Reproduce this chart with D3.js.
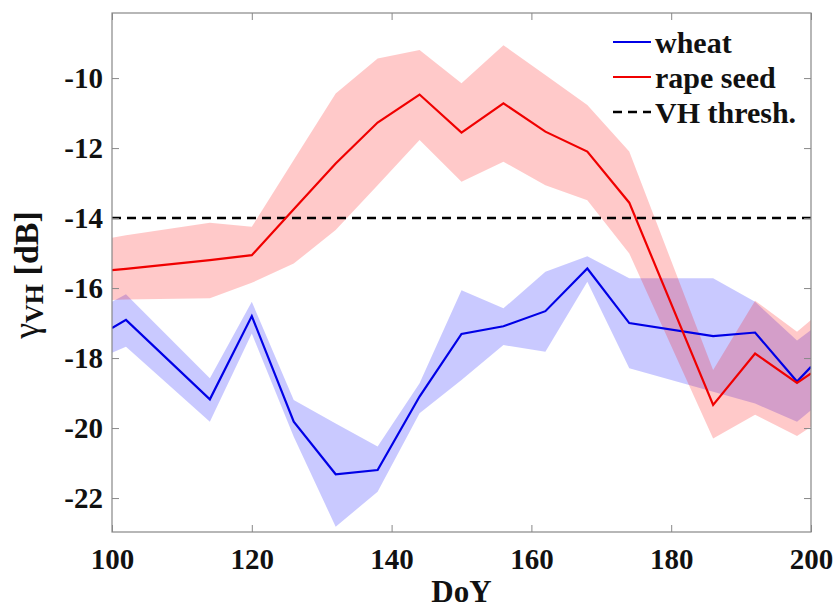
<!DOCTYPE html>
<html>
<head>
<meta charset="utf-8">
<script src="https://cdn.jsdelivr.net/npm/d3@7"></script>
<style>
  html, body { margin: 0; padding: 0; background: #fff; }
  svg { display: block; }
  svg text { font-family: "Liberation Serif", "Times New Roman", serif; font-weight: bold; fill: #111; }
</style>
</head>
<body>
<svg id="chart" width="836" height="609"></svg>
<script>
// Day of year of each acquisition
const doy = [100, 102, 114, 120, 126, 132, 138, 144, 150, 156, 162, 168, 174, 186, 192, 198, 200];

// Wheat: mean VH backscatter and spread band (dB)
const wheatMean = [-17.14, -16.91, -19.18, -16.80, -19.82, -21.32, -21.20, -19.10, -17.31, -17.09, -16.66, -15.44, -17.00, -17.37, -17.27, -18.67, -18.25];
const wheatHigh = [-16.39, -16.18, -18.58, -16.39, -19.20, -19.87, -20.53, -18.72, -16.06, -16.58, -15.53, -15.09, -15.72, -15.72, -16.39, -17.50, -17.20];
const wheatLow  = [-17.85, -17.68, -19.82, -17.30, -20.25, -22.82, -21.82, -19.58, -18.63, -17.63, -17.82, -15.82, -18.29, -18.96, -19.30, -19.82, -19.49];

// Rape seed: mean VH backscatter and spread band (dB)
const rapeMean = [-15.49, -15.45, -15.20, -15.06, -13.75, -12.44, -11.27, -10.47, -11.56, -10.72, -11.53, -12.10, -13.56, -19.34, -17.87, -18.71, -18.44];
const rapeHigh = [-14.56, -14.49, -14.13, -14.25, -12.34, -10.44, -9.44, -9.20, -10.15, -9.06, -9.91, -10.77, -12.10, -18.34, -16.36, -17.25, -16.91];
const rapeLow  = [-16.34, -16.33, -16.29, -15.85, -15.30, -14.34, -13.06, -11.77, -12.96, -12.39, -13.06, -13.49, -15.01, -20.30, -19.62, -20.23, -19.96];

// VH threshold (dB)
const vhThreshold = -14;

// Axis ticks
const xTicks = [100, 120, 140, 160, 180, 200];
const yTicks = [-22, -20, -18, -16, -14, -12, -10];

const legendLabels = ["wheat", "rape seed", "VH thresh."];

const margin = { left: 112, right: 25, top: 13, bottom: 77 };
const width = 836, height = 609;
const svg = d3.select("#chart");

const x = d3.scaleLinear().domain([100, 200]).range([margin.left, width - margin.right]);
const y = d3.scaleLinear().domain([-22.97, -8.14]).range([height - margin.bottom, margin.top]);

const x0 = x.range()[0], x1 = x.range()[1];
const y0 = y.range()[1], y1 = y.range()[0];

svg.append("defs").append("clipPath").attr("id", "plot-clip")
  .append("rect").attr("x", x0).attr("y", y0).attr("width", x1 - x0).attr("height", y1 - y0);

const plot = svg.append("g").attr("clip-path", "url(#plot-clip)");

const series = [
  { mean: wheatMean, hi: wheatHigh, lo: wheatLow, line: "#0000e6", fill: "rgba(0,0,255,0.21)" },
  { mean: rapeMean, hi: rapeHigh, lo: rapeLow, line: "#f00000", fill: "rgba(255,0,0,0.21)" }
];

const area = d3.area().x(d => x(d.d)).y0(d => y(d.lo)).y1(d => y(d.hi));
const line = d3.line().x(d => x(d.d)).y(d => y(d.v));

// Spread bands
series.forEach(s => {
  const pts = doy.map((d, i) => ({ d, lo: s.lo[i], hi: s.hi[i] }));
  plot.append("path").datum(pts).attr("d", area).attr("fill", s.fill).attr("stroke", "none");
});

// Threshold
plot.append("line")
  .attr("x1", x0).attr("x2", x1)
  .attr("y1", y(vhThreshold)).attr("y2", y(vhThreshold))
  .attr("stroke", "#000").attr("stroke-width", 2.5).attr("stroke-dasharray", "9,6");

// Mean lines
series.forEach(s => {
  const pts = doy.map((d, i) => ({ d, v: s.mean[i] }));
  plot.append("path").datum(pts).attr("d", line)
    .attr("fill", "none").attr("stroke", s.line).attr("stroke-width", 2.2)
    .attr("stroke-linejoin", "miter");
});

// Axes (ticks pointing inward, box on all sides)
const axisColor = "#888";
const fmt = d => String(d);
function styleAxis(g, showText) {
  g.attr("font-family", null).attr("font-size", null);
  g.select(".domain").remove();
  g.selectAll(".tick line").attr("stroke", axisColor).attr("stroke-width", 1);
  g.selectAll(".tick text")
    .attr("fill", null)
    .style("font-size", "29px");
  if (!showText) g.selectAll(".tick text").remove();
}

svg.append("g").attr("transform", `translate(0,${y1})`)
  .call(d3.axisBottom(x).tickValues(xTicks).tickFormat(fmt).tickSizeInner(-7).tickSizeOuter(0).tickPadding(16))
  .call(g => styleAxis(g, true));
svg.append("g").attr("transform", `translate(0,${y0})`)
  .call(d3.axisTop(x).tickValues(xTicks).tickSizeInner(-7).tickSizeOuter(0))
  .call(g => styleAxis(g, false));
svg.append("g").attr("transform", `translate(${x0},0)`)
  .call(d3.axisLeft(y).tickValues(yTicks).tickFormat(fmt).tickSizeInner(-7).tickSizeOuter(0).tickPadding(9))
  .call(g => styleAxis(g, true));
svg.append("g").attr("transform", `translate(${x1},0)`)
  .call(d3.axisRight(y).tickValues(yTicks).tickSizeInner(-7).tickSizeOuter(0))
  .call(g => styleAxis(g, false));

svg.append("rect")
  .attr("x", x0).attr("y", y0).attr("width", x1 - x0).attr("height", y1 - y0)
  .attr("fill", "none").attr("stroke", axisColor).attr("stroke-width", 1.2);

// Axis titles
svg.append("text")
  .attr("x", (x0 + x1) / 2).attr("y", 602)
  .attr("text-anchor", "middle")
  .style("font-size", "31px")
  .text("DoY");

const yTitle = svg.append("text")
  .attr("transform", "translate(38,275) rotate(-90)")
  .attr("text-anchor", "middle");
yTitle.append("tspan").style("font-size", "36px").style("font-weight", "normal").text("γ");
yTitle.append("tspan").style("font-size", "26px").attr("dy", 5).text("VH");
yTitle.append("tspan").style("font-size", "34px").attr("dy", -5).text(" [dB]");

// Legend
const legend = svg.append("g");
const legendStyles = [
  { color: "#0000e6", dash: null },
  { color: "#f00000", dash: null },
  { color: "#000", dash: "9,6" }
];
legendLabels.forEach((lab, i) => {
  const ly = 42 + i * 35;
  legend.append("line")
    .attr("x1", 613).attr("x2", 651).attr("y1", ly).attr("y2", ly)
    .attr("stroke", legendStyles[i].color)
    .attr("stroke-width", legendStyles[i].dash ? 2.5 : 2.2)
    .attr("stroke-dasharray", legendStyles[i].dash);
  legend.append("text")
    .attr("x", 655).attr("y", ly + 10.5)
    .style("font-size", "30px")
    .text(lab);
});
</script>
</body>
</html>
